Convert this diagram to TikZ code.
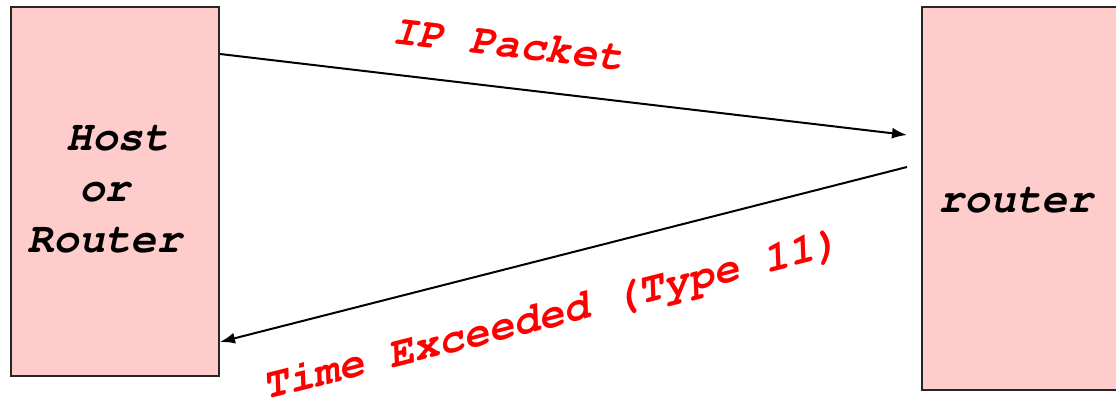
\documentclass[tikz,border=0pt]{standalone}
\usepackage[T1]{fontenc}
\usepackage{tikz}
\usetikzlibrary{arrows.meta,calc}

\definecolor{boxpink}{HTML}{FFCCCC}
\newcommand{\courbi}{\fontencoding{T1}\fontfamily{pcr}\fontseries{b}\fontshape{sl}}

\tikzset{
    box/.style={draw=black!85, line width=2pt, fill=boxpink, inner sep=0pt},
    boxtext/.style={font=\courbi\fontsize{43}{51}\selectfont, align=center, inner sep=0pt},
    msg/.style={line width=2pt, -{Latex[length=15pt,width=11pt]}},
    lbl/.style={text=red, font=\courbi\fontsize{43}{50}\selectfont, inner sep=0pt}
}

\begin{document}
\begin{tikzpicture}[x=1pt,y=1pt]
    \useasboundingbox (0,0) rectangle (1116,399);

    \node[box, minimum width=208, minimum height=369] (host) at (115,207.5) {};
    \node[boxtext] (htext) at (105,209) {\phantom{x}Host\\\phantom{x}or\phantom{x}\\Router};
    \node[box, minimum width=198, minimum height=383] (router) at (1021,200.5) {};
    \node[boxtext] (rtext) at (1016,198) {router};

    \coordinate (recv) at (907,264);
    \coordinate (reply) at (907,232);

    \draw[msg] ($(host.north east)+(0,-48)$) -- (recv);
    \draw[msg] (reply) -- ($(host.south east)+(0,35)$);

    \node[lbl, rotate=-6.6] (pkt) at (508,355) {IP Packet};
    \node[lbl, rotate=14.2] (tex) at (551,83) {Time Exceeded (Type 11)};
\end{tikzpicture}
\end{document}
